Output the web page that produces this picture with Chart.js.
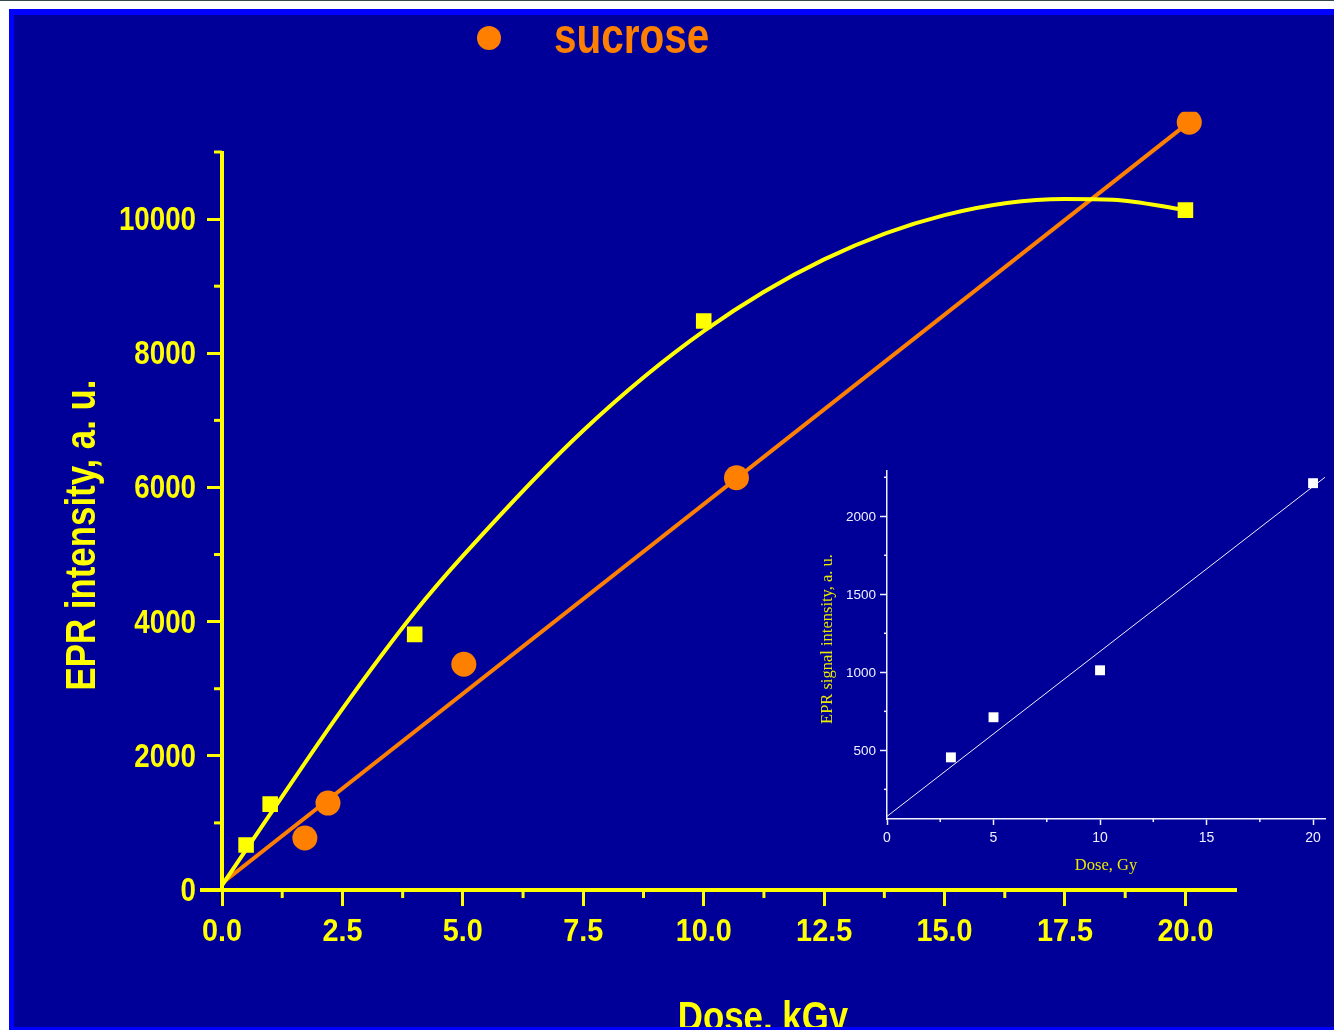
<!DOCTYPE html>
<html>
<head>
<meta charset="utf-8">
<script src="https://cdn.jsdelivr.net/npm/chart.js@4.4.1/dist/chart.umd.min.js"></script>
<style>
html, body { margin: 0; padding: 0; background: #fff; overflow: hidden; }
#topline { position: absolute; left: 0; top: 0; width: 1334px; height: 1px; background: #37474f; }
#frame {
    position: absolute; left: 9px; top: 9px; width: 1325px; height: 1021px;
    box-sizing: border-box; background: #000099;
    border-left: 5px solid #0000ff; border-top: 6px solid #0000ff; border-bottom: 3px solid #0000ff;
}
#mainCanvas { position: absolute; left: 0; top: 0; }
#insetCanvas { position: absolute; left: 790px; top: 455px; }
</style>
</head>
<body>
<div id="topline"></div>
<div id="frame"></div>
<canvas id="mainCanvas" width="1334" height="1027"></canvas>
<canvas id="insetCanvas" width="544" height="430"></canvas>
<script>
// main plot, dose in kGy
const curveDose = [0, 1, 2.5, 4, 5, 7.5, 10, 12.5, 15, 17.5, 18.5, 20];
const curveEPR = [70, 1130, 2700, 4140, 4980, 6850, 8330, 9400, 10060, 10300, 10290, 10134];
const squareDose = [0.5, 1.0, 4.0, 10.0, 20.0];
const squareEPR = [670, 1280, 3810, 8480, 10134];
const sucroseDose = [1.72, 2.2, 5.02, 10.68, 20.08];
const sucroseEPR = [775, 1295, 3365, 6145, 11445];
const sucroseFitDose = [0, 20.08];
const sucroseFitEPR = [100, 11445];

const mainXMajor = [0, 2.5, 5, 7.5, 10, 12.5, 15, 17.5, 20];
const mainXLabels = ["0.0", "2.5", "5.0", "7.5", "10.0", "12.5", "15.0", "17.5", "20.0"];
const mainXMinor = [1.25, 3.75, 6.25, 8.75, 11.25, 13.75, 16.25, 18.75];
const mainYMajor = [0, 2000, 4000, 6000, 8000, 10000];
const mainYLabels = ["0", "2000", "4000", "6000", "8000", "10000"];
const mainYMinor = [1000, 3000, 5000, 7000, 9000, 11000];
const mainYAxisTop = 11000;

// inset, dose in Gy
const gyDose = [3, 5, 10, 20];
const gyEPR = [455, 712, 1013, 2212];
const gyFitDose = [0, 20.56];
const gyFitEPR = [77, 2250];

const insetXMajor = [0, 5, 10, 15, 20];
const insetXLabels = ["0", "5", "10", "15", "20"];
const insetXMinor = [2.5, 7.5, 12.5, 17.5];
const insetYMajor = [500, 1000, 1500, 2000];
const insetYLabels = ["500", "1000", "1500", "2000"];
const insetYMinor = [250, 750, 1250, 1750, 2250];

const YELLOW = "#ffff00";
const ORANGE = "#ff8000";
const SANS = "'Liberation Sans', Arial, Helvetica, sans-serif";
const SERIF = "'Liberation Serif', 'Times New Roman', serif";

const pts = (xs, ys) => xs.map((x, i) => ({ x: x, y: ys[i] }));
const setTicks = (major, minor) => s => {
    s.ticks = major.concat(minor).sort((a, b) => a - b).map(v => ({ value: v }));
};

// short ticks, squeezed tick labels, titles and the legend mark
const extras = {
    id: "extras",
    afterDraw(chart, args, opts) {
        const ctx = chart.ctx;
        const area = chart.chartArea;
        const sx = chart.scales.x;
        const sy = chart.scales.y;
        ctx.save();
        ctx.strokeStyle = opts.color;
        ctx.lineWidth = opts.tickWidth;
        opts.minorX.forEach(v => {
            const px = sx.getPixelForValue(v);
            ctx.beginPath();
            ctx.moveTo(px, area.bottom);
            ctx.lineTo(px, area.bottom + opts.minorLength);
            ctx.stroke();
        });
        opts.minorY.forEach(v => {
            const py = sy.getPixelForValue(v);
            ctx.beginPath();
            ctx.moveTo(area.left - opts.minorLength, py);
            ctx.lineTo(area.left, py);
            ctx.stroke();
        });
        if (opts.yAxisTop !== undefined) {
            // y axis line stops at its last tick, the plot area goes higher for the last point
            ctx.lineWidth = opts.axisWidth;
            ctx.beginPath();
            ctx.moveTo(area.left, area.bottom + opts.axisWidth / 2);
            ctx.lineTo(area.left, sy.getPixelForValue(opts.yAxisTop) - 1);
            ctx.stroke();
        }
        if (opts.axisStart !== undefined) {
            ctx.lineWidth = opts.axisWidth;
            ctx.beginPath();
            ctx.moveTo(opts.axisStart, area.bottom);
            ctx.lineTo(area.left, area.bottom);
            ctx.stroke();
        }
        const drawText = (text, x, y, font, color, align, squeeze, rotate) => {
            ctx.save();
            ctx.font = font;
            ctx.fillStyle = color;
            ctx.textAlign = align;
            ctx.textBaseline = "alphabetic";
            ctx.translate(x, y);
            if (rotate) ctx.rotate(-Math.PI / 2);
            ctx.scale(squeeze, 1);
            ctx.fillText(text, 0, 0);
            ctx.restore();
        };
        const lx = opts.labelsX;
        lx.values.forEach((v, i) => {
            drawText(lx.texts[i], sx.getPixelForValue(v), lx.baseline, lx.font, lx.color, "center", lx.squeeze);
        });
        const ly = opts.labelsY;
        ly.values.forEach((v, i) => {
            drawText(ly.texts[i], ly.right, sy.getPixelForValue(v) + ly.dy, ly.font, ly.color, "right", ly.squeeze);
        });
        (opts.texts || []).forEach(t => {
            drawText(t.text, t.x, t.y, t.font, t.color, t.align || "center", t.squeeze || 1, t.rotate);
        });
        if (opts.legend) {
            const lg = opts.legend;
            ctx.fillStyle = lg.color;
            ctx.beginPath();
            ctx.arc(lg.x, lg.y, lg.r, 0, Math.PI * 2);
            ctx.fill();
        }
        ctx.restore();
    }
};

new Chart(document.getElementById("mainCanvas"), {
    type: "scatter",
    data: {
        datasets: [
            {
                label: "fit",
                data: pts(curveDose, curveEPR),
                showLine: true,
                borderColor: YELLOW,
                borderWidth: 4,
                pointRadius: 0,
                cubicInterpolationMode: "monotone",
                order: 1
            },
            {
                label: "sucrose fit",
                data: pts(sucroseFitDose, sucroseFitEPR),
                showLine: true,
                borderColor: ORANGE,
                borderWidth: 4,
                pointRadius: 0,
                order: 2
            },
            {
                label: "squares",
                data: pts(squareDose, squareEPR),
                pointStyle: "rect",
                pointRadius: 11,
                backgroundColor: YELLOW,
                borderWidth: 0,
                order: 0
            },
            {
                label: "sucrose",
                data: pts(sucroseDose, sucroseEPR),
                pointStyle: "circle",
                pointRadius: 12.5,
                backgroundColor: ORANGE,
                borderWidth: 0,
                order: 0
            }
        ]
    },
    options: {
        responsive: false,
        animation: false,
        layout: { padding: { top: 111.75, right: 98, left: 0, bottom: 0 } },
        plugins: {
            legend: { display: false },
            tooltip: { enabled: false },
            extras: {
                color: YELLOW,
                tickWidth: 3,
                minorLength: 8,
                axisStart: 200,
                axisWidth: 4,
                yAxisTop: mainYAxisTop,
                minorX: mainXMinor,
                minorY: mainYMinor,
                labelsX: { values: mainXMajor, texts: mainXLabels, font: "bold 32px " + SANS, color: YELLOW, squeeze: 0.9, baseline: 941 },
                labelsY: { values: mainYMajor, texts: mainYLabels, font: "bold 33px " + SANS, color: YELLOW, squeeze: 0.84, right: 196, dy: 11 },
                legend: { x: 489, y: 38, r: 12, color: ORANGE },
                texts: [
                    { text: "sucrose", x: 554, y: 53, align: "left", color: ORANGE, font: "bold 50px " + SANS, squeeze: 0.81 },
                    { text: "EPR intensity, a. u.", x: 95, y: 535, rotate: true, color: YELLOW, font: "bold 43px " + SANS, squeeze: 0.81 },
                    { text: "Dose, kGy", x: 763, y: 1031, color: YELLOW, font: "bold 42px " + SANS, squeeze: 0.83 }
                ]
            }
        },
        scales: {
            x: {
                type: "linear",
                min: 0,
                max: 21.05,
                afterFit: s => { s.height = 137; },
                afterBuildTicks: setTicks(mainXMajor, mainXMinor),
                border: { color: YELLOW, width: 4 },
                grid: {
                    drawOnChartArea: false,
                    tickLength: 16,
                    tickWidth: 3,
                    tickColor: c => mainXMajor.includes(c.tick.value) ? YELLOW : "transparent"
                },
                ticks: { display: false, autoSkip: false }
            },
            y: {
                min: 0,
                max: 11600,
                afterFit: s => { s.width = 222; },
                afterBuildTicks: setTicks(mainYMajor, mainYMinor),
                border: { display: false },
                grid: {
                    drawOnChartArea: false,
                    tickLength: 15,
                    tickWidth: 3,
                    tickColor: c => mainYMajor.includes(c.tick.value) ? YELLOW : "transparent"
                },
                ticks: { display: false, autoSkip: false }
            }
        }
    },
    plugins: [extras]
});

// inset: low dose range
const INSET_WHITE = "#f0f0ff";
const INSET_TEXT = "#e8e800";
new Chart(document.getElementById("insetCanvas"), {
    type: "scatter",
    data: {
        datasets: [
            {
                label: "fit Gy",
                data: pts(gyFitDose, gyFitEPR),
                showLine: true,
                borderColor: INSET_WHITE,
                borderWidth: 1,
                pointRadius: 0,
                order: 1
            },
            {
                label: "Gy",
                data: pts(gyDose, gyEPR),
                pointStyle: "rect",
                pointRadius: 7,
                backgroundColor: "#ffffff",
                borderWidth: 0,
                clip: false,
                order: 0
            }
        ]
    },
    options: {
        responsive: false,
        animation: false,
        layout: { padding: { top: 16, right: 9, left: 0, bottom: 0 } },
        plugins: {
            legend: { display: false },
            tooltip: { enabled: false },
            extras: {
                color: INSET_WHITE,
                tickWidth: 1.5,
                minorLength: 3,
                minorX: insetXMinor,
                minorY: insetYMinor,
                labelsX: { values: insetXMajor, texts: insetXLabels, font: "14px " + SANS, color: INSET_WHITE, squeeze: 1, baseline: 387 },
                labelsY: { values: insetYMajor, texts: insetYLabels, font: "13.5px " + SANS, color: INSET_WHITE, squeeze: 1, right: 86, dy: 5 },
                texts: [
                    { text: "EPR signal intensity, a. u.", x: 42, y: 184, rotate: true, color: INSET_TEXT, font: "16.5px " + SERIF },
                    { text: "Dose, Gy", x: 316, y: 415, color: INSET_TEXT, font: "16.5px " + SERIF }
                ]
            }
        },
        scales: {
            x: {
                type: "linear",
                min: 0,
                max: 20.56,
                afterFit: s => { s.height = 66; },
                afterBuildTicks: setTicks(insetXMajor, insetXMinor),
                border: { color: INSET_WHITE, width: 1.5 },
                grid: {
                    drawOnChartArea: false,
                    tickLength: 6,
                    tickWidth: 1.5,
                    tickColor: c => insetXMajor.includes(c.tick.value) ? INSET_WHITE : "transparent"
                },
                ticks: { display: false, autoSkip: false }
            },
            y: {
                min: 60,
                max: 2290,
                afterFit: s => { s.width = 97; },
                afterBuildTicks: setTicks(insetYMajor, insetYMinor),
                border: { color: INSET_WHITE, width: 1.5 },
                grid: {
                    drawOnChartArea: false,
                    tickLength: 7,
                    tickWidth: 1.5,
                    tickColor: c => insetYMajor.includes(c.tick.value) ? INSET_WHITE : "transparent"
                },
                ticks: { display: false, autoSkip: false }
            }
        }
    },
    plugins: [extras]
});
</script>
</body>
</html>
